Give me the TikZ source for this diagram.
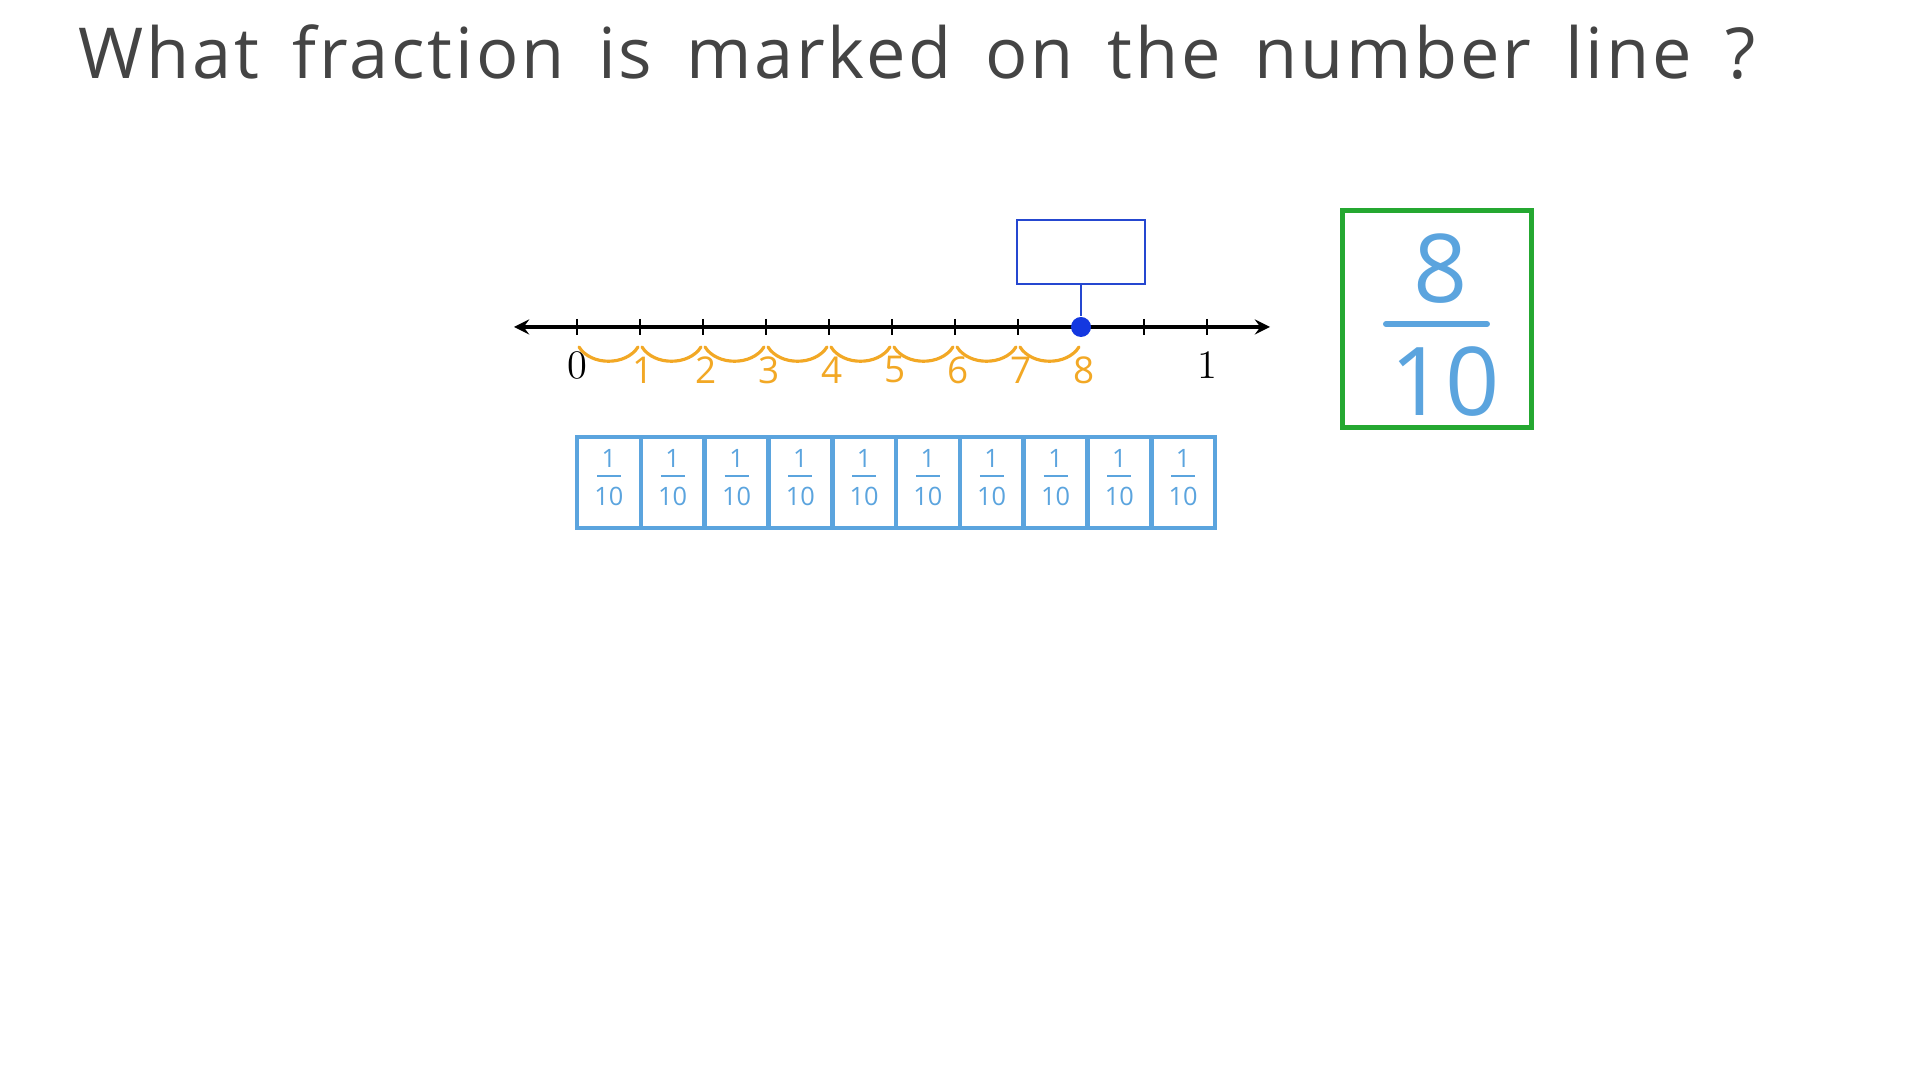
\documentclass[tikz,border=0pt]{standalone}
\usepackage{fontspec}
\newfontfamily\handfont{Open Sans}
\newfontfamily\titlefont[LetterSpace=4,WordSpace=1.6]{Open Sans}
\usetikzlibrary{arrows,positioning}
\definecolor{inkgray}{HTML}{444444}
\definecolor{jumporange}{HTML}{F2A825}
\definecolor{barblue}{HTML}{5BA4DE}
\definecolor{markblue}{HTML}{1438E0}
\definecolor{boxblue}{HTML}{2547D0}
\definecolor{answergreen}{HTML}{25A831}

\begin{document}
\begin{tikzpicture}[>=stealth,x=0.01cm,y=-0.01cm,
  tick/.style={line width=0.6pt},
  jump/.style={jumporange,line width=0.9pt,line cap=round},
  jumplabel/.style={jumporange,inner sep=0pt,font=\handfont\fontsize{10.5}{10.5}\selectfont},
  endlabel/.style={inner sep=0pt,font=\fontsize{11.5}{11.5}\selectfont},
  cellbox/.style={draw=barblue,line width=1.3pt,minimum width=0.638cm,minimum height=0.91cm,inner sep=0pt},
  cellnum/.style={barblue,inner sep=0pt,font=\handfont\fontsize{7.2}{7.2}\selectfont},
  bignum/.style={barblue,inner sep=0pt,font=\handfont\fontsize{27}{27}\selectfont}]
\useasboundingbox (0,0) rectangle (1920,1080);
% title
\node[anchor=west,text=inkgray,font=\titlefont\fontsize{20}{20}\selectfont] (title) at (66,52) {What fraction is marked on the number line ?};
% number line
\coordinate (left) at (514,327);
\coordinate (right) at (1270,327);
\draw[line width=0.9pt,<->] (left) -- (right);
\foreach \i in {0,...,10}
  \draw[tick] (577+63*\i,319) -- (577+63*\i,335);
\node[endlabel] (zero) at (577,365) {0};
\node[endlabel] (one) at (1207,365) {1};
% jumps
\foreach \i in {0,...,7}
  \draw[jump] (579+63*\i,347) .. controls (591+63*\i,366) and (626+63*\i,366) .. (638+63*\i,347);
\foreach \n in {1,...,8}
  \node[jumplabel] (jumpnum\n) at (580+63*\n,370) {\n};
% marked point
\node[circle,fill=markblue,minimum size=0.2cm,inner sep=0pt] (mark) at (1081,327) {};
\node[draw=boxblue,line width=0.7pt,minimum width=1.28cm,minimum height=0.64cm] (blank) at (1081,252) {};
\draw[boxblue,line width=0.7pt] (blank.south) -- (mark);
% tenths bar
\foreach \i in {0,...,9} {
  \node[cellbox] (cell\i) at (608.9+63.8*\i,482.5) {};
  \node[cellnum] (num\i) at (608.9+63.8*\i,458) {1};
  \node[cellnum] (den\i) at (608.9+63.8*\i,496) {10};
  \draw[barblue,line width=0.7pt] (597+63.8*\i,476) -- (621+63.8*\i,476);
}
% answer
\node[draw=answergreen,line width=1.4pt,minimum width=1.89cm,minimum height=2.16cm] (answer) at (1437,319) {};
\node[bignum] (numer) at (1441,269) {8};
\node[bignum] (denom) at (1445,382) {10};
\draw[barblue,line width=1.7pt,line cap=round] (1386,324) -- (1487,324);
\end{tikzpicture}
\end{document}
